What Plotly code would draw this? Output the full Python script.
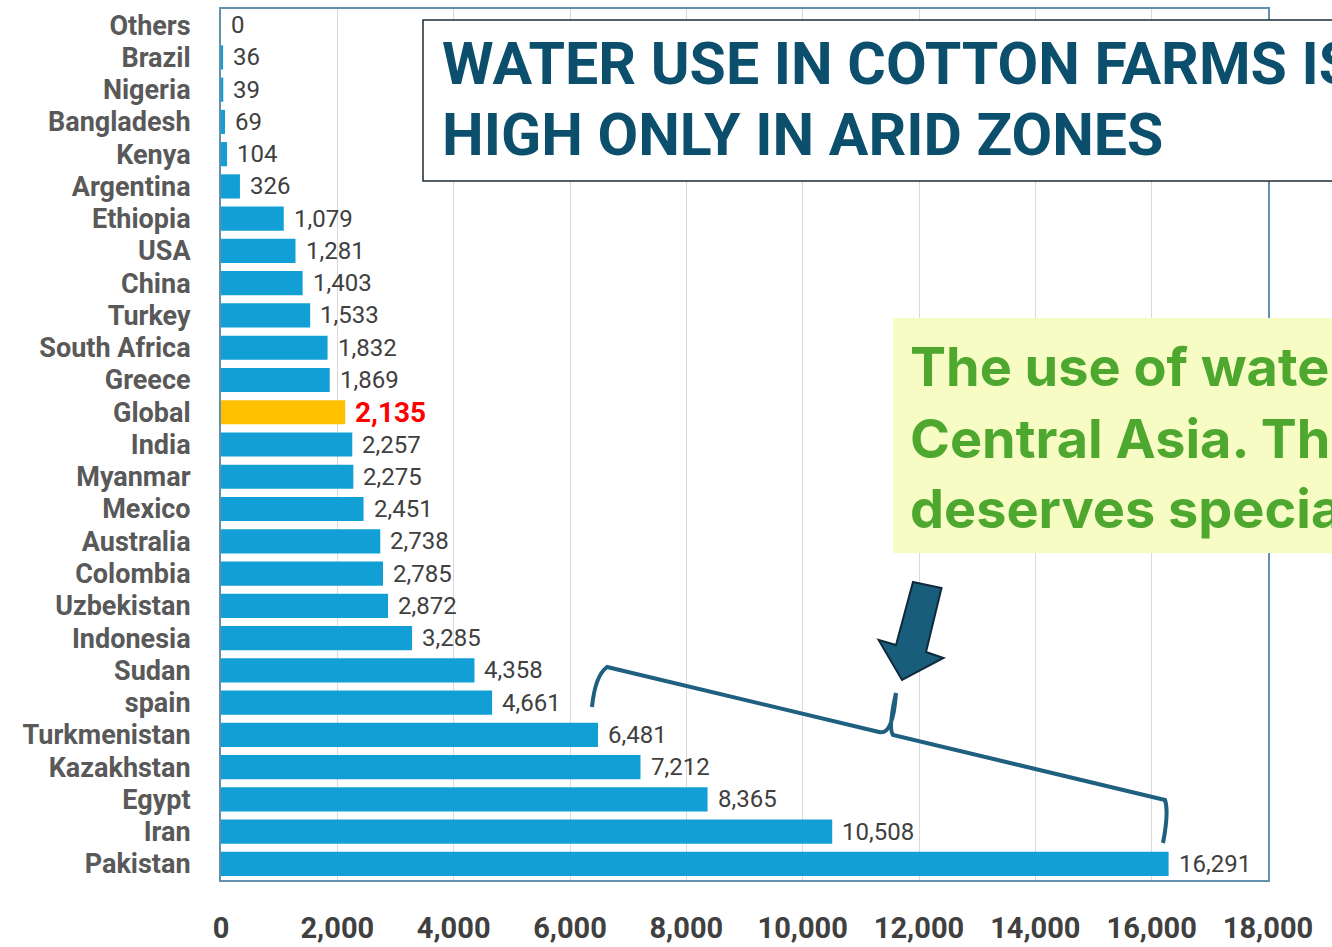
import plotly.graph_objects as go

countries = ["Others", "Brazil", "Nigeria", "Bangladesh", "Kenya", "Argentina", "Ethiopia",
             "USA", "China", "Turkey", "South Africa", "Greece", "Global", "India", "Myanmar",
             "Mexico", "Australia", "Colombia", "Uzbekistan", "Indonesia", "Sudan", "spain",
             "Turkmenistan", "Kazakhstan", "Egypt", "Iran", "Pakistan"]
water_use = [0, 36, 39, 69, 104, 326, 1079, 1281, 1403, 1533, 1832, 1869, 2135, 2257, 2275,
             2451, 2738, 2785, 2872, 3285, 4358, 4661, 6481, 7212, 8365, 10508, 16291]
highlight = "Global"
x_ticks = [0, 2000, 4000, 6000, 8000, 10000, 12000, 14000, 16000, 18000]

title_lines = ["WATER USE IN COTTON FARMS IS", "HIGH ONLY IN ARID ZONES"]
note_lines = ["The use of water is high in South and",
              "Central Asia. This region",
              "deserves special attention."]

W, H = 1332, 947
ML, MR, MT, MB = 221, 64, 9, 67
PW, PH = W - ML - MR, H - MT - MB


def px(x):
    return (x - ML) / PW


def py(y):
    return (H - MB - y) / PH


BLUE = "#129fd6"
GOLD = "#ffc000"
colors = [GOLD if c == highlight else BLUE for c in countries]

fig = go.Figure()
fig.add_trace(go.Bar(
    x=water_use, y=countries, orientation="h",
    marker=dict(color=colors, line=dict(width=0)),
    hoverinfo="x+y",
))

annotations = []
for c, v in zip(countries, water_use):
    if c == highlight:
        annotations.append(dict(x=v, y=c, xref="x", yref="y", text=f"{v:,}", showarrow=False,
                                xanchor="left", xshift=8,
                                font=dict(family="Roboto", size=28, color="#ff0000", weight="bold")))
    else:
        annotations.append(dict(x=v, y=c, xref="x", yref="y", text=f"{v:,}", showarrow=False,
                                xanchor="left", xshift=8,
                                font=dict(family="Roboto", size=24, color="#404040")))

# title box text
title_y = [63, 135]
for t, yy in zip(title_lines, title_y):
    annotations.append(dict(x=px(440), y=py(yy), xref="paper", yref="paper", text=t,
                            showarrow=False, xanchor="left", yanchor="middle",
                            font=dict(family="Roboto", size=59, color="#0b4f6c", weight="bold")))
note_y = [366, 438, 509]
for t, yy in zip(note_lines, note_y):
    annotations.append(dict(x=px(908), y=py(yy), xref="paper", yref="paper", text=t,
                            showarrow=False, xanchor="left", yanchor="middle",
                            font=dict(family="Inter", size=54, color="#4ea72e", weight="bold")))

shapes = [
    dict(type="rect", xref="paper", yref="paper", x0=px(423), x1=px(1400), y0=py(20), y1=py(181),
         fillcolor="white", line=dict(color="#1c2b36", width=1.5), layer="above"),
    dict(type="rect", xref="paper", yref="paper", x0=px(893), x1=px(1400), y0=py(318), y1=py(553),
         fillcolor="#f6fcc4", line=dict(width=0), layer="above"),
]

bracket = (f"M {px(592)},{py(707)} Q {px(595)},{py(676)} {px(607)},{py(667)} "
           f"L {px(879)},{py(732)} Q {px(893)},{py(736)} {px(896)},{py(693)} "
           f"M {px(896)},{py(693)} Q {px(888)},{py(728)} {px(893)},{py(735)} "
           f"L {px(1165)},{py(800)} Q {px(1169)},{py(812)} {px(1163)},{py(843)}")
shapes.append(dict(type="path", xref="paper", yref="paper", path=bracket,
                   line=dict(color="#1f5f80", width=4), layer="above"))

arrow_pts = [(913, 582), (941.5, 588), (926, 652), (943.5, 658), (902, 680), (878.6, 640), (896, 645)]
arrow = "M " + " L ".join(f"{px(a)},{py(b)}" for a, b in arrow_pts) + " Z"
shapes.append(dict(type="path", xref="paper", yref="paper", path=arrow,
                   fillcolor="#195d7d", line=dict(color="#0e2a3a", width=2), layer="above"))

fig.update_layout(
    width=W, height=H, autosize=False,
    margin=dict(l=ML, r=MR, t=MT, b=MB, pad=0, autoexpand=False),
    plot_bgcolor="white", paper_bgcolor="white",
    bargap=0.25, showlegend=False,
    annotations=annotations, shapes=shapes,
    font=dict(family="Roboto"),
)
fig.update_xaxes(
    range=[0, 18000], tickvals=x_ticks, tickformat=",",
    showgrid=True, gridcolor="#d9d9d9", gridwidth=1,
    showline=True, linecolor="#6390ad", linewidth=2, mirror=True,
    ticks="outside", ticklen=21, tickcolor="rgba(0,0,0,0)",
    tickfont=dict(family="Roboto", size=29, color="#404040", weight="bold"),
    zeroline=False, automargin=False,
)
fig.update_yaxes(
    autorange="reversed", type="category",
    tickmode="array", tickvals=countries, ticktext=countries,
    showgrid=False,
    showline=True, linecolor="#6390ad", linewidth=2, mirror=True,
    ticks="outside", ticklen=23, tickcolor="rgba(0,0,0,0)",
    tickfont=dict(family="Roboto", size=27, color="#595959", weight="bold"),
    automargin=False,
)

fig.write_html("out.html", config={"displayModeBar": False},
               post_script="document.body.style.margin='0';document.body.style.overflow='hidden';")
